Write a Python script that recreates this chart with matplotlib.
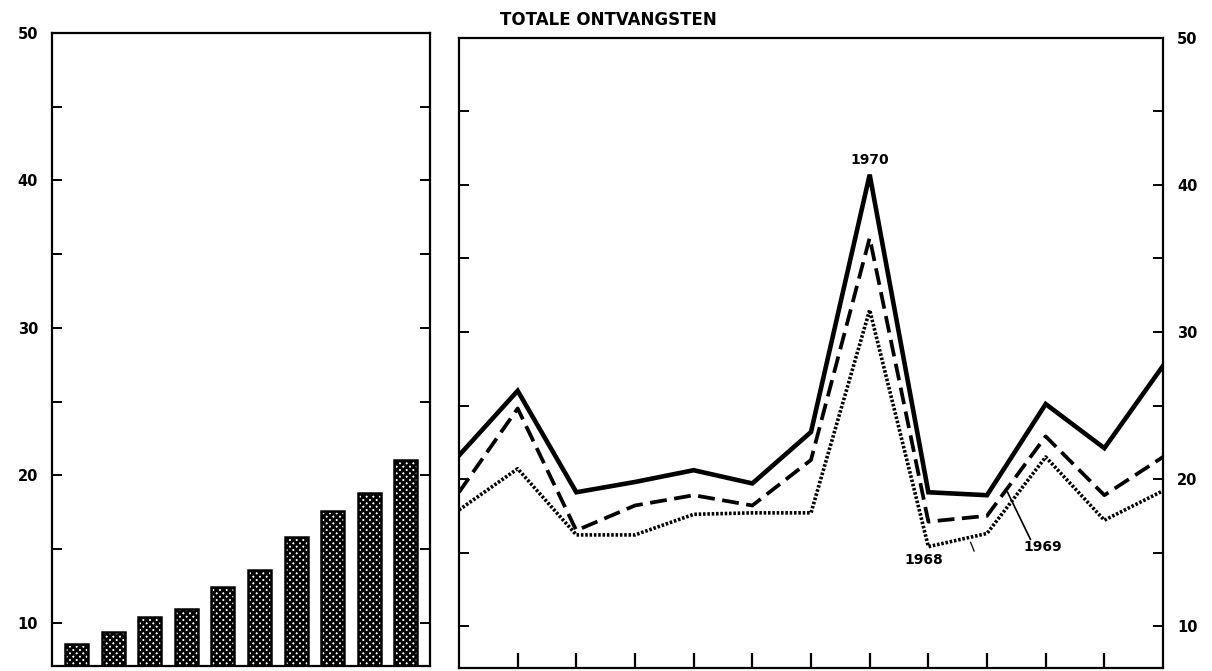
import matplotlib
matplotlib.use("Agg")

import matplotlib.pyplot as plt

# Left panel: yearly totals (bars)
bar_values = [8.6, 9.35, 10.4, 10.95, 12.45, 13.6, 15.8, 17.6, 18.8, 21.05]

# Right panel: monthly values, x = 0..12
months = list(range(13))
line_1970 = [21.6, 26.0, 19.1, 19.8, 20.6, 19.7, 23.2, 40.7, 19.1, 18.9, 25.1, 22.1, 27.7]
line_1969 = [19.1, 24.8, 16.5, 18.2, 18.9, 18.2, 21.3, 36.4, 17.1, 17.5, 22.9, 18.9, 21.5]
line_1968 = [17.9, 20.7, 16.2, 16.2, 17.6, 17.7, 17.7, 31.5, 15.4, 16.3, 21.5, 17.2, 19.2]

title = "TOTALE ONTVANGSTEN"
yticks = [10, 20, 30, 40, 50]
yticks_minor = [15, 25, 35, 45]

plt.rcParams["hatch.linewidth"] = 2.0
fig = plt.figure(figsize=(12.12, 6.71), dpi=100)


def style_axis(ax, labels_left):
    for s in ax.spines.values():
        s.set_linewidth(1.6)
    ax.set_yticks(yticks)
    ax.set_yticks(yticks_minor, minor=True)
    ax.tick_params(axis="y", which="both", direction="in", left=True, right=True,
                   length=7, width=1.4, labelleft=labels_left,
                   labelright=not labels_left, pad=10)
    for lab in ax.get_yticklabels():
        lab.set_fontweight("bold")
        lab.set_fontsize(10.5)


# ---- left panel: bars ----
ax1 = fig.add_axes([0.0429, 0.0075, 0.3119, 0.9434])
ax1.bar(range(len(bar_values)), bar_values, width=0.63, bottom=0,
        facecolor="white", edgecolor="black", hatch="xxxxx", linewidth=1.8)
ax1.set_xlim(-0.67, 9.66)
ax1.set_ylim(7.08, 50)
ax1.set_xticks([])
style_axis(ax1, labels_left=True)

# ---- right panel: lines ----
ax2 = fig.add_axes([0.3787, 0.0045, 0.5809, 0.939])
ax2.plot(months, line_1970, color="black", lw=3.3, solid_joinstyle="miter")
ax2.plot(months, line_1969, color="black", lw=2.7, ls=(0, (4.5, 2.0)))
ax2.plot(months, line_1968, color="black", lw=2.6, ls=(0, (0.7, 0.5)))
ax2.set_xlim(0, 12)
ax2.set_ylim(7.15, 50)
ax2.set_xticks(range(1, 12))
ax2.tick_params(axis="x", direction="in", length=11, width=1.6, labelbottom=False)
style_axis(ax2, labels_left=False)

lab_font = dict(ha="center", va="center", fontsize=10, fontweight="bold")
ax2.text(7, 41.7, "1970", **lab_font)
ax2.text(7.92, 14.5, "1968", **lab_font)
ax2.text(9.95, 15.4, "1969", **lab_font)
ax2.plot([9.74, 9.35], [15.9, 19.1], color="black", lw=1.2)
ax2.plot([8.72, 8.78], [15.7, 15.1], color="black", lw=0.9)

fig.text(0.4125, 0.970, title, ha="left", va="center", fontsize=12, fontweight="bold")

fig.savefig("out.png", dpi=100)
